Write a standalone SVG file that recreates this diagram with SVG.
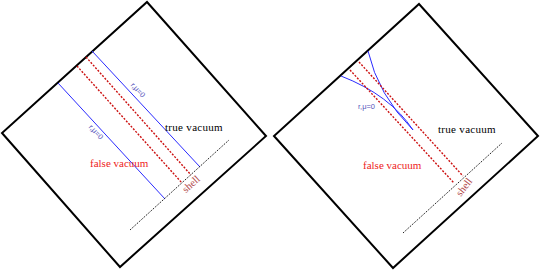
<svg xmlns="http://www.w3.org/2000/svg" width="540" height="271" viewBox="0 0 540 271">
<style>
.frame{fill:none;stroke:#000;stroke-width:2;stroke-linejoin:miter}
.blue{fill:none;stroke:#2a2aff;stroke-width:1}
.red{fill:none;stroke:#cc1111;stroke-width:1.4;stroke-dasharray:2 1.5}
.dot{fill:none;stroke:#000;stroke-width:1;stroke-dasharray:1.2 1.2}
.lbl{font-family:"Liberation Serif","DejaVu Serif",serif;font-size:11px}
.tv{fill:#000;letter-spacing:0.3px}
.fv{fill:#ee2222}
.sh{fill:#b04848;font-size:10.5px}
.ra{font-family:"Liberation Sans","DejaVu Sans",sans-serif;font-size:7.5px;fill:#5555bb}
</style>
<rect width="540" height="271" fill="#fff"/>
<g id="diagram-left">
<polygon class="frame" points="147,2 266,136 120,267 2,133"/>
</g>
<g id="diagram-right">
<polygon class="frame" points="419,4 538,136 393,268 274,136"/>
</g>
<g id="connectors">
<line class="blue" x1="92" y1="51" x2="200" y2="167"/>
<line class="blue" x1="58" y1="83" x2="165" y2="199"/>
<line class="red" x1="86" y1="57" x2="191" y2="175"/>
<line class="red" x1="77" y1="66" x2="182" y2="183"/>
<line class="dot" x1="130" y1="230" x2="229" y2="140"/>
<path class="blue" d="M368,51 Q378,95 413,130"/>
<path class="blue" d="M341,76 Q390,95 413,130"/>
<line class="red" x1="359" y1="62" x2="463" y2="176"/>
<line class="red" x1="350" y1="70" x2="454" y2="183"/>
<line class="dot" x1="403" y1="233" x2="502" y2="143"/>
</g>
<g id="labels-left">
<text class="ra" x="138" y="90" text-anchor="middle" dominant-baseline="central" transform="rotate(47 138 90)">r,μ=0</text>
<text class="ra" x="96" y="132" text-anchor="middle" dominant-baseline="central" transform="rotate(47 96 132)">r,μ=0</text>
<text class="lbl tv" x="165" y="131">true vacuum</text>
<text class="lbl fv" x="90" y="167">false vacuum</text>
<text class="lbl sh" x="191" y="184" text-anchor="middle" dominant-baseline="central" transform="rotate(-42 191 184)">shell</text>
</g>
<g id="labels-right">
<text class="ra" x="358" y="109">r,μ=0</text>
<text class="lbl tv" x="438" y="133">true vacuum</text>
<text class="lbl fv" x="363" y="169">false vacuum</text>
<text class="lbl sh" x="464" y="187" text-anchor="middle" dominant-baseline="central" transform="rotate(-52 464 187)">shell</text>
</g>
</svg>
